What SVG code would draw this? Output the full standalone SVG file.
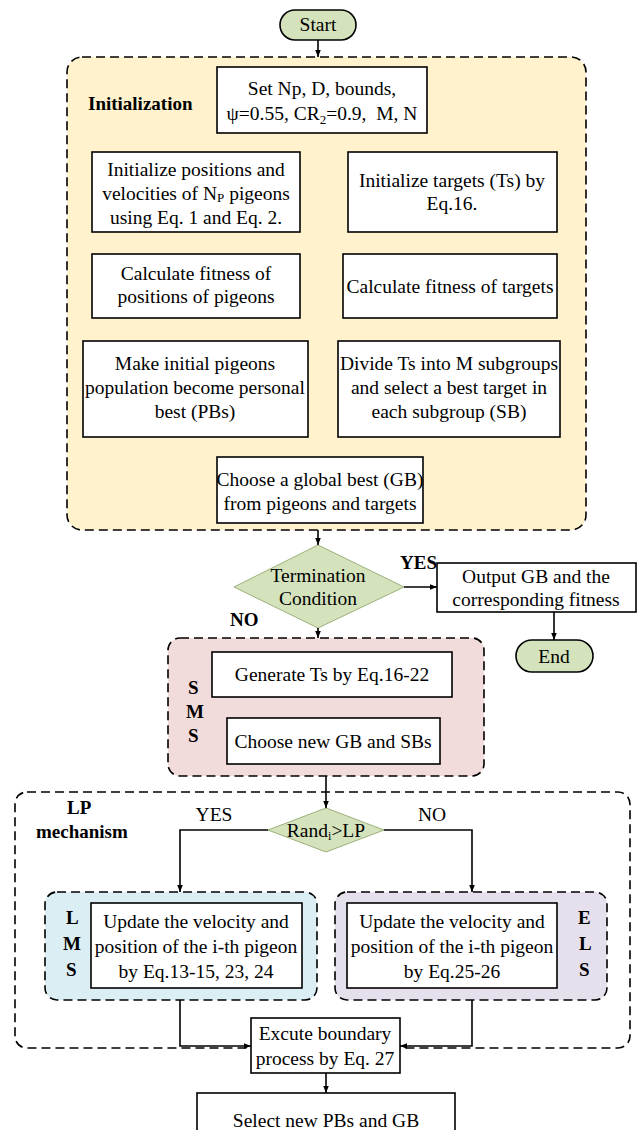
<svg xmlns="http://www.w3.org/2000/svg" width="637" height="1130" viewBox="0 0 637 1130">
<defs>
<marker id="ah" viewBox="0 0 10 10" refX="10" refY="5" markerWidth="7" markerHeight="7" orient="auto-start-reverse" markerUnits="userSpaceOnUse"><path d="M0,1 L10,5 L0,9 z" fill="#000"/></marker>
<style>
.t{font-family:"Liberation Serif","Times New Roman",serif;font-size:19.5px;fill:#000;text-anchor:middle}
.b{font-family:"Liberation Serif","Times New Roman",serif;font-size:19px;font-weight:bold;fill:#000}
.box{fill:#fff;stroke:#000;stroke-width:1.6}
.grp{stroke:#000;stroke-width:1.6;stroke-dasharray:9,5}
.term{fill:#d5e3bd;stroke:#000;stroke-width:1.6}
.dia{fill:#d5e3bd;stroke:#9bb07a;stroke-width:1}
.c{fill:none;stroke:#000;stroke-width:1.6}
</style>
</defs>
<g id="init-group"><rect class="grp" x="67" y="57" width="519" height="473" rx="15" fill="#fff2cc"/><text class="b" x="88" y="110">Initialization</text></g>
<g id="sms-group"><rect class="grp" x="168" y="638" width="316" height="138" rx="12" fill="#f2dcdb"/><text class="b" x="188" y="694">S</text><text class="b" x="186" y="718">M</text><text class="b" x="188" y="742">S</text></g>
<g id="lp-group"><rect class="grp" x="15" y="792" width="615" height="256" rx="12" fill="none"/><text class="b" x="67" y="814">LP</text><text class="b" x="36" y="838">mechanism</text></g>
<g id="lms-group"><rect class="grp" x="45" y="892" width="272" height="108" rx="12" fill="#dbeef3"/><text class="b" x="66" y="924">L</text><text class="b" x="63" y="950">M</text><text class="b" x="66" y="976">S</text></g>
<g id="els-group"><rect class="grp" x="335" y="892" width="272" height="108" rx="12" fill="#e5e0ec"/><text class="b" x="578" y="924">E</text><text class="b" x="579" y="950">L</text><text class="b" x="579" y="976">S</text></g>

<g id="start"><rect class="term" x="280" y="10" width="76" height="30" rx="15"/><text class="t" x="318" y="31">Start</text></g>
<g id="n1"><rect class="box" x="217" y="67" width="210" height="66"/><text class="t" x="322" y="95">Set Np, D, bounds,</text><text class="t" x="322" y="120">ψ=0.55, CR<tspan font-size="13" dy="4">2</tspan><tspan dy="-4">=0.9, &#160;M, N</tspan></text></g>
<g id="n2"><rect class="box" x="92" y="152" width="208" height="80"/><text class="t" x="196" y="176">Initialize positions and</text><text class="t" x="196" y="200">velocities of N<tspan font-size="13" dy="2">P</tspan><tspan dy="-2"> pigeons</tspan></text><text class="t" x="196" y="224">using Eq. 1 and Eq. 2.</text></g>
<g id="n3"><rect class="box" x="348" y="152" width="209" height="80"/><text class="t" x="452" y="187">Initialize targets (Ts) by</text><text class="t" x="452" y="210">Eq.16.</text></g>
<g id="n4"><rect class="box" x="92" y="254" width="208" height="64"/><text class="t" x="196" y="280">Calculate fitness of</text><text class="t" x="196" y="303">positions of pigeons</text></g>
<g id="n5"><rect class="box" x="343" y="254" width="214" height="64"/><text class="t" x="450" y="293">Calculate fitness of targets</text></g>
<g id="n6"><rect class="box" x="83" y="341" width="225" height="96"/><text class="t" x="195" y="370">Make initial pigeons</text><text class="t" x="195" y="394">population become personal</text><text class="t" x="195" y="418">best (PBs)</text></g>
<g id="n7"><rect class="box" x="338" y="341" width="222" height="96"/><text class="t" x="449" y="370">Divide Ts into M subgroups</text><text class="t" x="449" y="394">and select a best target in</text><text class="t" x="449" y="418">each subgroup (SB)</text></g>
<g id="n8"><rect class="box" x="217" y="457" width="206" height="66"/><text class="t" x="320" y="486">Choose a global best (GB)</text><text class="t" x="320" y="510">from pigeons and targets</text></g>
<g id="term"><polygon class="dia" points="318,545 404,587 318,628 234,587"/><text class="t" x="318" y="582">Termination</text><text class="t" x="318" y="605">Condition</text></g>
<g id="out"><rect class="box" x="437" y="563" width="199" height="49"/><text class="t" x="536" y="583">Output GB and the</text><text class="t" x="536" y="606">corresponding fitness</text></g>
<g id="end"><rect class="term" x="516" y="640" width="77" height="32" rx="16"/><text class="t" x="554" y="663">End</text></g>
<g id="gen"><rect class="box" x="212" y="652" width="240" height="45"/><text class="t" x="332" y="681">Generate Ts by Eq.16-22</text></g>
<g id="choose"><rect class="box" x="227" y="718" width="213" height="46"/><text class="t" x="333" y="748">Choose new GB and SBs</text></g>
<g id="rand"><polygon class="dia" points="326,808 384,830 326,852 268,830"/><text class="t" x="326" y="837">Rand<tspan font-size="12" dy="3">i</tspan><tspan dy="-3">&gt;LP</tspan></text></g>
<g id="upd1"><rect class="box" x="91" y="903" width="211" height="85"/><text class="t" x="196" y="928">Update the velocity and</text><text class="t" x="196" y="953">position of the i-th pigeon</text><text class="t" x="196" y="978">by Eq.13-15, 23, 24</text></g>
<g id="upd2"><rect class="box" x="347" y="903" width="210" height="85"/><text class="t" x="452" y="928">Update the velocity and</text><text class="t" x="452" y="953">position of the i-th pigeon</text><text class="t" x="452" y="978">by Eq.25-26</text></g>
<g id="exe"><rect class="box" x="251" y="1018" width="149" height="55"/><text class="t" x="325" y="1040">Excute boundary</text><text class="t" x="325" y="1065">process by Eq. 27</text></g>
<g id="sel"><rect class="box" x="197" y="1093" width="258" height="50"/><text class="t" x="326" y="1127">Select new PBs and GB</text></g>

<g id="connectors">
<path class="c" d="M318,40 V57" marker-end="url(#ah)"/>
<path class="c" d="M318,530 V545" marker-end="url(#ah)"/>
<path class="c" d="M404,587 H437" marker-end="url(#ah)"/>
<path class="c" d="M554,612 V640" marker-end="url(#ah)"/>
<path class="c" d="M318,628 V638" marker-end="url(#ah)"/>
<path class="c" d="M326,776 V808" marker-end="url(#ah)"/>
<path class="c" d="M268,830 H180 V892" marker-end="url(#ah)"/>
<path class="c" d="M384,830 H472 V892" marker-end="url(#ah)"/>
<path class="c" d="M180,1000 V1046 H251" marker-end="url(#ah)"/>
<path class="c" d="M472,1000 V1046 H400" marker-end="url(#ah)"/>
<path class="c" d="M326,1073 V1093" marker-end="url(#ah)"/>
<text class="b" x="400" y="569" font-size="17">YES</text>
<text class="b" x="230" y="626" font-size="17">NO</text>
<text class="t" x="214" y="821" font-size="16">YES</text>
<text class="t" x="432" y="821" font-size="16">NO</text>
</g>
</svg>
